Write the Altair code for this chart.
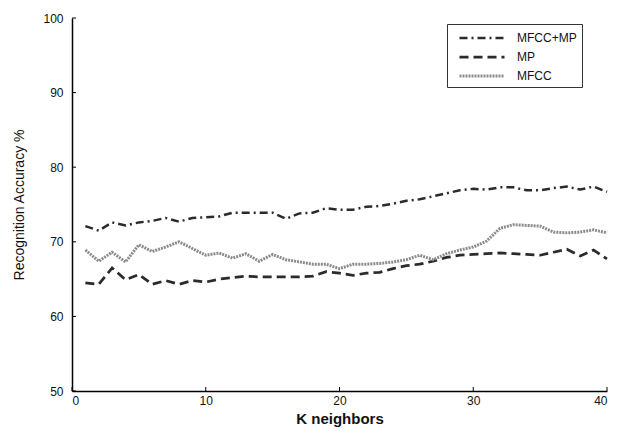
import altair as alt
import pandas as pd

K = list(range(1, 41))
series_names = ["MFCC+MP", "MP", "MFCC"]

mfcc_mp = [72.1, 71.5, 72.6, 72.2, 72.6, 72.8, 73.2, 72.7, 73.2, 73.3,
           73.4, 73.9, 73.9, 73.9, 73.9, 73.1, 73.8, 73.9, 74.5, 74.3,
           74.3, 74.7, 74.8, 75.1, 75.5, 75.7, 76.1, 76.5, 76.9, 77.1,
           77.0, 77.3, 77.3, 76.9, 76.9, 77.2, 77.4, 77.0, 77.4, 76.7]
mp = [64.5, 64.3, 66.5, 64.9, 65.6, 64.3, 64.8, 64.3, 64.8, 64.6,
      65.0, 65.2, 65.4, 65.3, 65.3, 65.3, 65.3, 65.4, 66.0, 65.8,
      65.5, 65.8, 65.9, 66.4, 66.8, 67.0, 67.4, 67.9, 68.2, 68.3,
      68.4, 68.5, 68.4, 68.3, 68.2, 68.6, 69.0, 68.1, 68.9, 67.7]
mfcc = [68.9, 67.4, 68.6, 67.3, 69.6, 68.7, 69.3, 70.0, 69.1, 68.2,
        68.5, 67.8, 68.4, 67.4, 68.3, 67.6, 67.3, 67.0, 67.0, 66.4,
        67.0, 67.0, 67.1, 67.3, 67.6, 68.2, 67.6, 68.4, 68.9, 69.3,
        70.1, 71.8, 72.3, 72.2, 72.1, 71.3, 71.2, 71.3, 71.6, 71.2]

x_ticks = [0, 10, 20, 30, 40]
y_ticks = [50, 60, 70, 80, 90, 100]

rows = []
for name, vals in zip(series_names, [mfcc_mp, mp, mfcc]):
    for k, v in zip(K, vals):
        rows.append({"K": k, "acc": v, "series": name})
df = pd.DataFrame(rows)

FONT = "Liberation Sans"

legend = alt.Legend(
    title=None, orient="none", legendX=375, legendY=6,
    symbolType="M-0.2,0H5.8", symbolSize=225, symbolStrokeWidth=2.5,
    labelFontSize=12, labelFont=FONT, labelColor="#111",
    strokeColor="#333", padding=5, rowPadding=4,
    fillColor="white", labelOffset=47, offset=0,
)

x_enc = alt.X("K:Q", scale=alt.Scale(domain=[0, 40], nice=False),
              axis=alt.Axis(values=x_ticks, title="K neighbors", ticks=False,
                            grid=False, labelPadding=4, titlePadding=5,
                            format="d"))
y_enc = alt.Y("acc:Q", scale=alt.Scale(domain=[50, 100], nice=False),
              axis=alt.Axis(values=y_ticks, title="Recognition Accuracy %",
                            ticks=False, grid=False, labelPadding=9,
                            titlePadding=16, format="d"))

lines = alt.Chart(df).mark_line(strokeCap="butt").encode(
    x=x_enc,
    y=y_enc,
    color=alt.Color("series:N", scale=alt.Scale(domain=series_names,
                    range=["#2b2b2b", "#2b2b2b", "#8c8c8c"]), legend=legend),
    strokeDash=alt.StrokeDash("series:N", scale=alt.Scale(domain=series_names,
                    range=[[8, 4, 2, 4], [9, 5], [2, 1]]), legend=legend),
    strokeWidth=alt.StrokeWidth("series:N", scale=alt.Scale(domain=series_names,
                    range=[2.5, 3, 1.6]), legend=None),
)

xt = alt.Chart(pd.DataFrame({"t": x_ticks})).mark_rule(color="black", strokeWidth=1).encode(
    x=alt.X("t:Q"), y=alt.value(373), y2=alt.value(369))
yt = alt.Chart(pd.DataFrame({"t": y_ticks})).mark_rule(color="black", strokeWidth=1).encode(
    y=alt.Y("t:Q"), x=alt.value(0), x2=alt.value(4))

chart = alt.layer(lines, xt, yt).properties(
    width=535, height=373,
    autosize=alt.AutoSizeParams(type="none"),
    padding={"left": 64, "top": 10, "right": 7, "bottom": 38},
).configure_view(stroke=None).configure_axis(
    domainColor="black", domainWidth=1.5, labelFont=FONT, titleFont=FONT,
    labelFontSize=12, titleFontSize=14, labelColor="#111", titleColor="#111",
    titleFontWeight="normal",
).configure_axisX(titleFontSize=15, titleFontWeight="bold")

chart.save("out.html", embed_options={"renderer": "svg", "actions": False})
